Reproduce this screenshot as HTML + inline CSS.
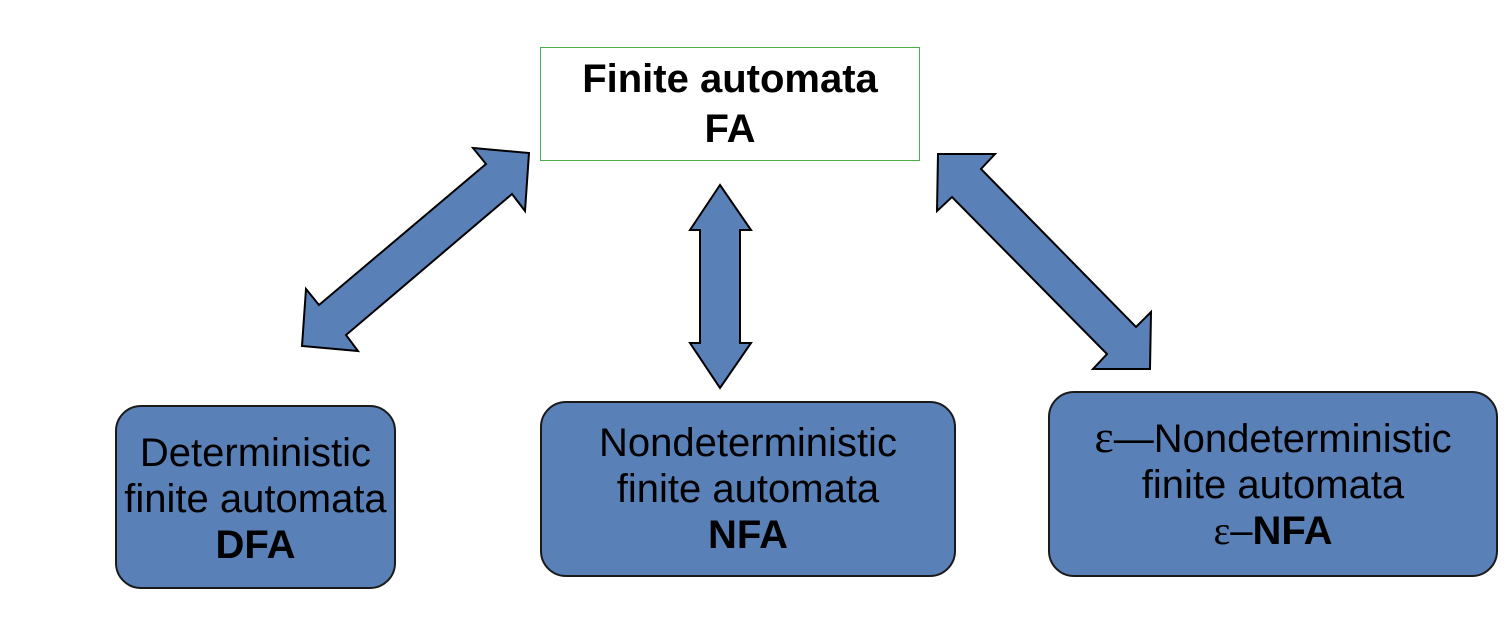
<!DOCTYPE html>
<html><head><style>
body{margin:0;width:1506px;height:642px;background:#fff;position:relative;overflow:hidden;font-family:"Liberation Sans",sans-serif;}
.b{position:absolute;box-sizing:border-box;display:flex;flex-direction:column;justify-content:center;align-items:center;text-align:center;font-size:40px;line-height:46px;color:#000;white-space:nowrap;}
.r{background:#5a80b8;border:2px solid #1a1a1a;border-radius:26px;}
</style></head><body>
<svg width="1506" height="642" style="position:absolute;left:0;top:0">
<g fill="#5a80b8" stroke="#000" stroke-width="2" stroke-linejoin="miter">
<polygon points="529,153 525,211 512,194 346,335 358,351 302,346 306,289 319,305 486,164 473,148"/>
<polygon points="938,154 995,154 981,169 1136,327 1151,312 1150,369 1093,369 1107,354 952,197 937,211"/>
<polygon points="720,185 751,230 740,230 740,343 751,343 720,388 690,343 700,343 700,230 690,230"/>
</g>
</svg>
<div class="b" style="left:540px;top:47px;width:380px;height:114px;border:1.5px solid #4caf50;font-weight:bold;line-height:50px;">Finite automata<br>FA</div>
<div class="b r" style="left:115px;top:405px;width:281px;height:184px;padding-top:4px;">Deterministic<br>finite automata<br><b>DFA</b></div>
<div class="b r" style="left:540px;top:401px;width:416px;height:176px;">Nondeterministic<br>finite automata<br><b>NFA</b></div>
<div class="b r" style="left:1048px;top:391px;width:450px;height:186px;"><span><span style="font-family:'Liberation Serif',serif;font-size:46px">ε</span>—Nondeterministic</span>finite automata<br><span><span style="font-family:'Liberation Serif',serif">ε</span>–<b>NFA</b></span></div>
</body></html>
